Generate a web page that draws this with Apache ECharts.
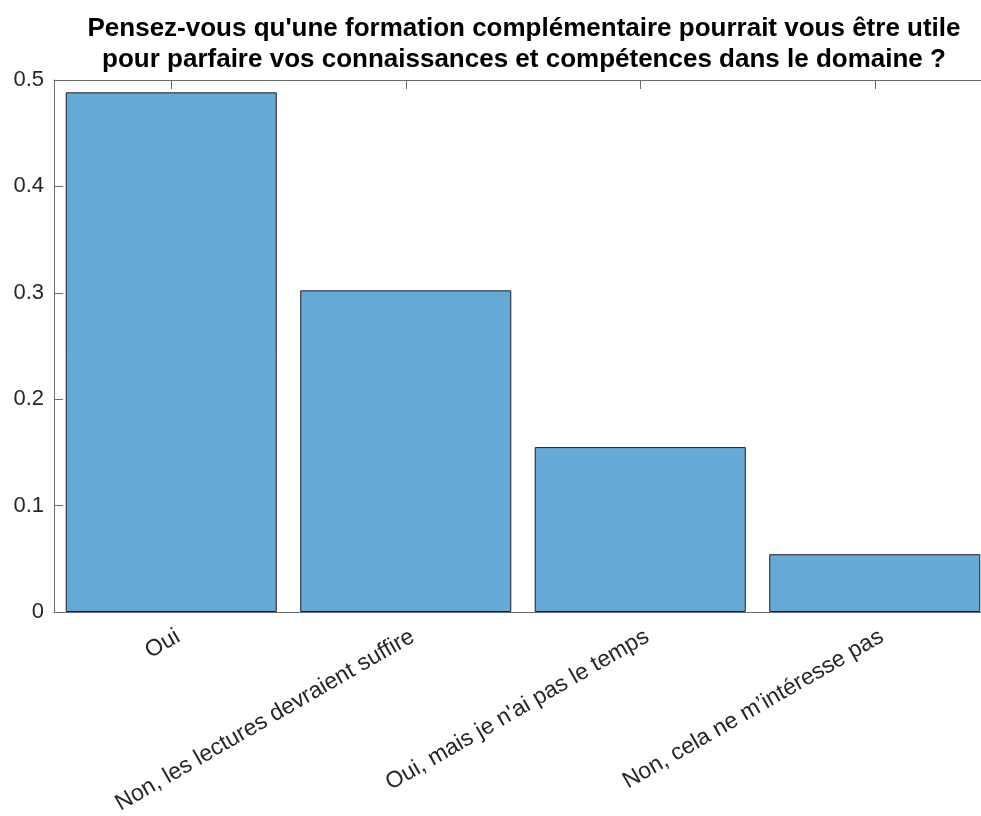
<!DOCTYPE html>
<html>
<head>
<meta charset="utf-8">
<script src="https://cdn.jsdelivr.net/npm/echarts@6/dist/echarts.min.js"></script>
<style>html,body{margin:0;padding:0;background:#fff;overflow:hidden}#c{width:992px;height:816px}</style>
</head>
<body>
<div id="c"></div>
<script>
const categories = ["Oui", "Non, les lectures devraient suffire", "Oui, mais je n'ai pas le temps", "Non, cela ne m\u2019intéresse pas"];
const values = [0.4884, 0.3023, 0.1550, 0.0543];
const yTicks = [0, 0.1, 0.2, 0.3, 0.4, 0.5];
const titleText = "Pensez-vous qu'une formation complémentaire pourrait vous être utile\npour parfaire vos connaissances et compétences dans le domaine ?";

const chart = echarts.init(document.getElementById('c'), null, {renderer: 'canvas'});
const axisColor = '#6b6b6b';
const textColor = '#262626';
chart.setOption({
  animation: false,
  title: {
    text: titleText,
    left: 519, top: 8, textAlign: 'center',
    textStyle: {fontFamily: 'Liberation Sans', fontWeight: 'bold', fontSize: 26, lineHeight: 31, color: '#000'}
  },
  grid: {left: 54, top: 80, right: 0, bottom: 204, containLabel: false, outerBoundsMode: 'none'},
  xAxis: [{
    type: 'category', data: categories, position: 'bottom',
    axisLine: {show: true, lineStyle: {color: axisColor, width: 1}},
    axisTick: {show: true, inside: true, length: 9, alignWithLabel: true, lineStyle: {color: axisColor}},
    axisLabel: {rotate: 30, fontSize: 23, fontFamily: 'Liberation Sans', color: textColor, margin: 27, interval: 0,
      padding: [0, -8, 0, 0]},
    splitLine: {show: false}
  }, {
    type: 'category', data: categories, position: 'top',
    axisLine: {show: true, lineStyle: {color: axisColor, width: 1}},
    axisTick: {show: true, inside: true, length: 9, alignWithLabel: true, lineStyle: {color: axisColor}},
    axisLabel: {show: false}
  }],
  yAxis: {
    type: 'value', min: 0, max: 0.5, interval: 0.1,
    axisLine: {show: true, lineStyle: {color: axisColor, width: 1}},
    axisTick: {show: true, inside: true, length: 9, lineStyle: {color: axisColor}},
    axisLabel: {fontSize: 22, fontFamily: 'Liberation Sans', color: textColor, margin: 10,
      formatter: v => yTicks.includes(Math.round(v*10)/10) ? String(Math.round(v*10)/10) : ''},
    splitLine: {show: false}
  },
  series: [{
    type: 'bar', data: values, xAxisIndex: 0,
    barCategoryGap: '10%',
    itemStyle: {color: '#65a9d7', borderColor: '#1e1e1e', borderWidth: 1}
  }]
});
</script>
</body>
</html>
